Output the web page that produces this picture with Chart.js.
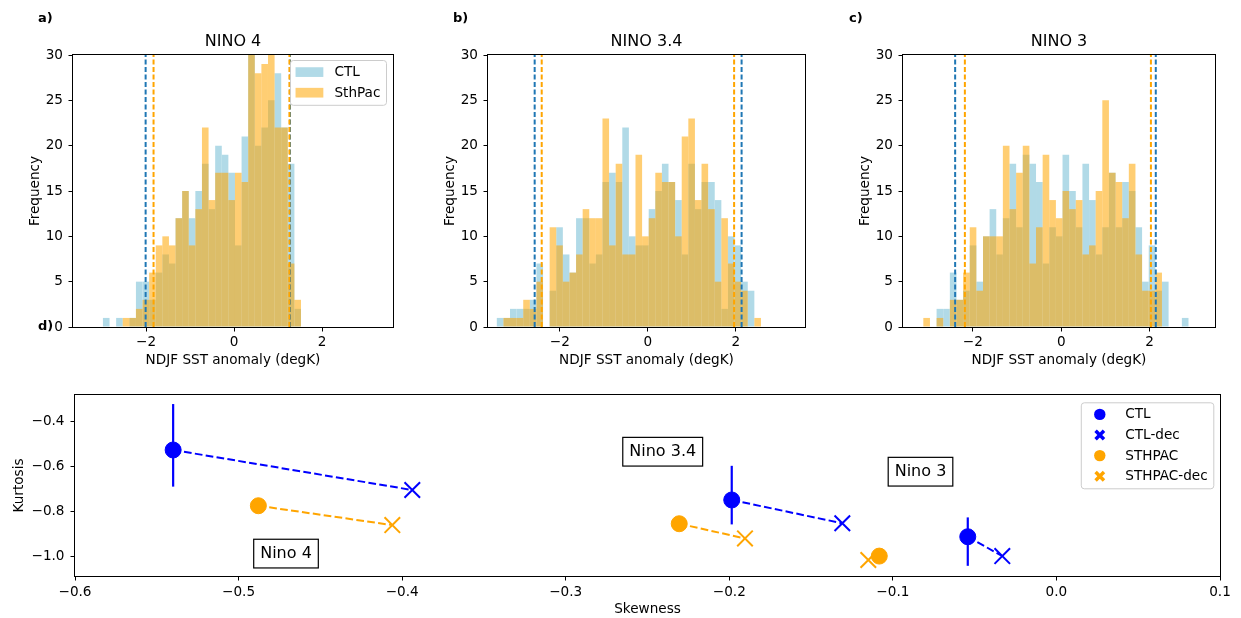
<!DOCTYPE html>
<html><head><meta charset="utf-8">
<script src="https://cdn.jsdelivr.net/npm/chart.js@4.4.1/dist/chart.umd.min.js"></script>
<style>
body{margin:0;background:#fff;}
#wrap{position:relative;width:1241px;height:618px;overflow:hidden;background:#fff;font-family:"DejaVu Sans",sans-serif;}
canvas{position:absolute;}
.lbl{position:absolute;font-weight:bold;font-size:13px;line-height:15px;color:#000;}
</style></head><body>
<div id="wrap">
<canvas id="ca" width="400" height="372" style="left:0px;top:0px"></canvas>
<canvas id="cb" width="400" height="372" style="left:415px;top:0px"></canvas>
<canvas id="cc" width="400" height="372" style="left:830px;top:0px"></canvas>
<canvas id="cd" width="1241" height="238" style="left:0px;top:380px"></canvas>
<div class="lbl" style="left:38px;top:10px">a)</div>
<div class="lbl" style="left:453px;top:10px">b)</div>
<div class="lbl" style="left:849px;top:10px">c)</div>
<div class="lbl" style="left:38px;top:318px">d)</div>
</div>
<script>
// ---------- histogram data (counts per 0.15 degK bin) ----------
const binWidth = 0.15;
const binStartNino4 = -2.98;
const binStartNino34 = -3.43;
const binStartNino3 = -3.12;
const ctlNino4 = [1,0,1,0,1,5,5,3,6,8,7,12,15,12,15,18,13,20,19,17,9,21,32,20,22,25,28,22,18,2];
const sthNino4 = [0,0,0,1,1,2,3,6,9,10,9,12,15,9,13,22,14,17,17,14,17,16,31,28,29,32,22,22,7,3];
const ctlNino34 = [1,1,2,2,2,3,7,0,4,11,8,6,12,12,7,8,16,17,16,22,10,9,9,13,15,18,16,14,8,18,13,16,16,14,2,10,9,5,4,0];
const sthNino34 = [0,1,1,1,3,2,5,0,11,9,5,6,8,13,12,12,23,9,18,8,8,19,10,12,17,16,16,10,21,23,14,18,13,5,12,7,5,4,0,1];
const ctlNino3 = [0,0,2,2,6,3,4,9,5,10,13,8,12,18,11,19,18,16,7,11,10,19,15,11,18,14,8,11,17,11,16,15,11,5,9,4,5,0,0,1];
const sthNino3 = [1,0,1,0,3,3,6,11,4,10,10,10,20,13,17,20,7,11,19,14,12,15,13,14,8,9,15,25,17,16,12,18,8,4,4,6,0,0,0,0];
// dashed threshold lines
const ctlLinesNino4 = [-2.01, 1.27];
const sthLinesNino4 = [-1.83, 1.257];
const ctlLinesNino34 = [-2.57, 2.13];
const sthLinesNino34 = [-2.41, 1.96];
const ctlLinesNino3 = [-2.40, 2.14];
const sthLinesNino3 = [-2.18, 2.03];
const sstTicks = [-2, 0, 2];
const freqTicks = [0, 5, 10, 15, 20, 25, 30];

// ---------- skewness / kurtosis data ----------
const regions = ['Nino 4', 'Nino 3.4', 'Nino 3'];
const ctlSkew = [-0.540, -0.1985, -0.0542];
const ctlKurt = [-0.528, -0.749, -0.9115];
const ctlKurtLow = [-0.690, -0.857, -1.040];
const ctlKurtHigh = [-0.325, -0.598, -0.826];
const ctlDecSkew = [-0.3938, -0.1309, -0.0331];
const ctlDecKurt = [-0.705, -0.852, -0.997];
const sthSkew = [-0.4879, -0.2306, -0.1083];
const sthKurt = [-0.7745, -0.854, -0.997];
const sthDecSkew = [-0.406, -0.1904, -0.115];
const sthDecKurt = [-0.860, -0.919, -1.0145];
const labelSkew = [-0.471, -0.2407, -0.0831];
const labelKurt = [-0.986, -0.5357, -0.624];
const skewTicks = [-0.6, -0.5, -0.4, -0.3, -0.2, -0.1, 0.0, 0.1];
const kurtTicks = [-1.0, -0.8, -0.6, -0.4];

// ---------- styles ----------
const CTL_FILL = 'rgba(173,216,230,0.95)';
const STH_FILL = 'rgba(255,165,0,0.55)';
const CTL_LINE = '#1f77b4';
const STH_LINE = '#ffa500';
const BLUE = '#0000ff';
const ORANGE = '#ffa500';
const FS = 13.6;

Chart.defaults.font.family = '"DejaVu Sans", sans-serif';
Chart.defaults.font.size = FS;
Chart.defaults.color = '#000';

const minus = s => String(s).replace('-', '\u2212');

const framePlugin = {
  id: 'frame',
  afterDatasetsDraw(chart) {
    const a = chart.chartArea, ctx = chart.ctx;
    ctx.save();
    ctx.strokeStyle = '#000';
    ctx.lineWidth = 1;
    ctx.strokeRect(Math.round(a.left) - 0.5, Math.round(a.top) - 0.5, Math.round(a.right - a.left) + 1, Math.round(a.bottom - a.top) + 1);
    ctx.restore();
  }
};

function legendPlugin(items, place) {
  return {
    id: 'boxLegend',
    afterDraw(chart) {
      const ctx = chart.ctx, a = chart.chartArea;
      const pad = 5.6, rowGap = 20.6, rowH = 13, textX = 44.5;
      ctx.save();
      ctx.font = FS + 'px "DejaVu Sans"';
      const tw = Math.max(...items.map(it => ctx.measureText(it.label).width));
      const w = textX + tw + pad, h = pad * 2 + rowH + rowGap * (items.length - 1);
      const left = a.right - place.right - w, top = a.top + place.top;
      ctx.beginPath();
      ctx.roundRect(left + 0.5, top + 0.5, w, h, 3);
      ctx.fillStyle = 'rgba(255,255,255,0.8)';
      ctx.fill();
      ctx.strokeStyle = '#cccccc';
      ctx.lineWidth = 1;
      ctx.stroke();
      items.forEach((it, i) => {
        const cy = top + pad + rowH / 2 + i * rowGap;
        const hc = left + 19;
        if (it.kind === 'patch') {
          ctx.fillStyle = it.color;
          ctx.fillRect(left + pad, cy - 4.85, 27.8, 9.7);
        } else if (it.kind === 'circle') {
          ctx.beginPath(); ctx.arc(hc, cy, 5.7, 0, 2 * Math.PI);
          ctx.fillStyle = it.color; ctx.fill();
        } else {
          ctx.beginPath();
          ctx.moveTo(hc - 4.2, cy - 4.2); ctx.lineTo(hc + 4.2, cy + 4.2);
          ctx.moveTo(hc + 4.2, cy - 4.2); ctx.lineTo(hc - 4.2, cy + 4.2);
          ctx.strokeStyle = it.color; ctx.lineWidth = 3.5; ctx.stroke();
        }
        ctx.fillStyle = '#000'; ctx.textAlign = 'left'; ctx.textBaseline = 'middle';
        ctx.fillText(it.label, left + textX, cy + 0.5);
      });
      ctx.restore();
    }
  };
}

function axisGrid() {
  return {display: true, offset: false, drawOnChartArea: false, drawTicks: true, tickLength: 4.5, color: '#000', lineWidth: 1};
}

function makeHist(id, o) {
  const centers = o.ctl.map((_, k) => o.start + binWidth * (k + 0.5));
  const barBase = {type: 'bar', borderWidth: 0, grouped: false, barPercentage: 1, categoryPercentage: 1, inflateAmount: 0};
  const ds = [
    Object.assign({}, barBase, {label: 'CTL', data: centers.map((x, k) => ({x, y: o.ctl[k]})), backgroundColor: CTL_FILL, order: 4}),
    Object.assign({}, barBase, {label: 'SthPac', data: centers.map((x, k) => ({x, y: o.sth[k]})), backgroundColor: STH_FILL, order: 3})
  ];
  o.ctlLines.forEach(v => ds.push({type: 'line', label: 'ctl-thr', data: [{x: v, y: 0}, {x: v, y: 30}], borderColor: CTL_LINE, borderWidth: 2, borderDash: [5, 2.5], pointRadius: 0, order: 2}));
  o.sthLines.forEach(v => ds.push({type: 'line', label: 'sth-thr', data: [{x: v, y: 0}, {x: v, y: 30}], borderColor: STH_LINE, borderWidth: 2, borderDash: [5, 2.5], pointRadius: 0, order: 1}));
  const plugins = [framePlugin];
  if (o.legend) plugins.push(legendPlugin([{label: 'CTL', kind: 'patch', color: CTL_FILL}, {label: 'SthPac', kind: 'patch', color: STH_FILL}], {top: 5, right: 7}));
  return new Chart(document.getElementById(id), {
    type: 'bar',
    data: {datasets: ds},
    options: {
      responsive: false, animation: false, events: [], devicePixelRatio: 1,
      layout: {padding: {left: 0, right: o.padRight, top: 0, bottom: 0}},
      plugins: {
        legend: {display: false}, tooltip: {enabled: false},
        title: {display: true, text: o.title, fullSize: false, color: '#000', font: {size: 16, weight: 'normal'}, padding: {top: 32.4, bottom: 3.4}}
      },
      scales: {
        x: {
          type: 'linear', min: o.xmin, max: o.xmax, offset: false,
          grid: axisGrid(), border: {display: false},
          afterBuildTicks: ax => { ax.ticks = sstTicks.map(v => ({value: v})); },
          ticks: {padding: 2.5, maxRotation: 0, minRotation: 0, autoSkip: false, callback: v => minus(v)},
          title: {display: true, text: 'NDJF SST anomaly (degK)', padding: {top: 0, bottom: 3.8}},
          afterFit: s => { s.height = 45; }
        },
        y: {
          type: 'linear', min: 0, max: 30,
          grid: axisGrid(), border: {display: false},
          afterBuildTicks: ax => { ax.ticks = freqTicks.map(v => ({value: v})); },
          ticks: {padding: 5.5, autoSkip: false, callback: v => minus(v)},
          title: {display: true, text: 'Frequency', padding: {top: 27.8, bottom: 0}},
          afterFit: s => { s.width = 73; }
        }
      }
    },
    plugins
  });
}

makeHist('ca', {title: 'NINO 4', start: binStartNino4, ctl: ctlNino4, sth: sthNino4, ctlLines: ctlLinesNino4, sthLines: sthLinesNino4, xmin: -3.66, xmax: 3.61, padRight: 7, legend: true});
makeHist('cb', {title: 'NINO 3.4', start: binStartNino34, ctl: ctlNino34, sth: sthNino34, ctlLines: ctlLinesNino34, sthLines: sthLinesNino34, xmin: -3.63, xmax: 3.57, padRight: 10});
makeHist('cc', {title: 'NINO 3', start: binStartNino3, ctl: ctlNino3, sth: sthNino3, ctlLines: ctlLinesNino3, sthLines: sthLinesNino3, xmin: -3.58, xmax: 3.48, padRight: 15});

// ---------- panel d ----------
const boxLabelPlugin = {
  id: 'boxLabels',
  afterDatasetsDraw(chart) {
    const ctx = chart.ctx, xs = chart.scales.x, ys = chart.scales.y;
    ctx.save();
    ctx.font = '16px "DejaVu Sans"';
    regions.forEach((r, i) => {
      const cx = xs.getPixelForValue(labelSkew[i]), cy = ys.getPixelForValue(labelKurt[i]);
      const tw = ctx.measureText(r).width, w = tw + 13, h = 28.7;
      ctx.fillStyle = '#fff';
      ctx.fillRect(cx - w / 2, cy - h / 2, w, h);
      ctx.strokeStyle = '#000'; ctx.lineWidth = 1.2;
      ctx.strokeRect(cx - w / 2, cy - h / 2, w, h);
      ctx.fillStyle = '#000'; ctx.textAlign = 'center'; ctx.textBaseline = 'middle';
      ctx.fillText(r, cx, cy + 0.5);
    });
    ctx.restore();
  }
};

const dsD = [];
regions.forEach((r, i) => {
  dsD.push({label: r + ' CTL link', data: [{x: ctlSkew[i], y: ctlKurt[i]}, {x: ctlDecSkew[i], y: ctlDecKurt[i]}], showLine: true, borderColor: BLUE, borderWidth: 2, borderDash: [7.7, 3.3], pointRadius: 0, order: 7});
  dsD.push({label: r + ' STHPAC link', data: [{x: sthSkew[i], y: sthKurt[i]}, {x: sthDecSkew[i], y: sthDecKurt[i]}], showLine: true, borderColor: ORANGE, borderWidth: 2, borderDash: [7.7, 3.3], pointRadius: 0, order: 7});
  dsD.push({label: r + ' CTL error', data: [{x: ctlSkew[i], y: ctlKurtLow[i]}, {x: ctlSkew[i], y: ctlKurtHigh[i]}], showLine: true, borderColor: BLUE, borderWidth: 2.2, pointRadius: 0, order: 6});
});
dsD.push({label: 'CTL-dec', data: ctlDecSkew.map((x, i) => ({x, y: ctlDecKurt[i]})), pointStyle: 'crossRot', pointRadius: 11, borderColor: BLUE, backgroundColor: BLUE, pointBorderWidth: 2, order: 5});
dsD.push({label: 'STHPAC-dec', data: sthDecSkew.map((x, i) => ({x, y: sthDecKurt[i]})), pointStyle: 'crossRot', pointRadius: 11, borderColor: ORANGE, backgroundColor: ORANGE, pointBorderWidth: 2, order: 4});
dsD.push({label: 'STHPAC', data: sthSkew.map((x, i) => ({x, y: sthKurt[i]})), pointStyle: 'circle', pointRadius: 8, borderColor: ORANGE, backgroundColor: ORANGE, pointBorderWidth: 1, order: 3});
dsD.push({label: 'CTL', data: ctlSkew.map((x, i) => ({x, y: ctlKurt[i]})), pointStyle: 'circle', pointRadius: 8, borderColor: BLUE, backgroundColor: BLUE, pointBorderWidth: 1, order: 2});

new Chart(document.getElementById('cd'), {
  type: 'scatter',
  data: {datasets: dsD},
  options: {
    responsive: false, animation: false, events: [], devicePixelRatio: 1,
    layout: {padding: {left: 0, right: 21, top: 15, bottom: 0}},
    plugins: {legend: {display: false}, tooltip: {enabled: false}},
    scales: {
      x: {
        type: 'linear', min: -0.6, max: 0.1,
        grid: axisGrid(), border: {display: false},
        afterBuildTicks: ax => { ax.ticks = skewTicks.map(v => ({value: v})); },
        ticks: {padding: 4, maxRotation: 0, minRotation: 0, autoSkip: false, callback: v => minus(v.toFixed(1))},
        title: {display: true, text: 'Skewness', padding: {top: 0, bottom: 0}},
        afterFit: s => { s.height = 42; }
      },
      y: {
        type: 'linear', min: -1.085, max: -0.285,
        grid: axisGrid(), border: {display: false},
        afterBuildTicks: ax => { ax.ticks = kurtTicks.map(v => ({value: v})); },
        ticks: {padding: 6, autoSkip: false, callback: v => minus(v.toFixed(1))},
        title: {display: true, text: 'Kurtosis', padding: {top: 11.8, bottom: 0}},
        afterFit: s => { s.width = 75; }
      }
    }
  },
  plugins: [framePlugin, boxLabelPlugin, legendPlugin([
    {label: 'CTL', kind: 'circle', color: BLUE},
    {label: 'CTL-dec', kind: 'x', color: BLUE},
    {label: 'STHPAC', kind: 'circle', color: ORANGE},
    {label: 'STHPAC-dec', kind: 'x', color: ORANGE}
  ], {top: 7.3, right: 6.7})]
});
</script>
</body></html>
